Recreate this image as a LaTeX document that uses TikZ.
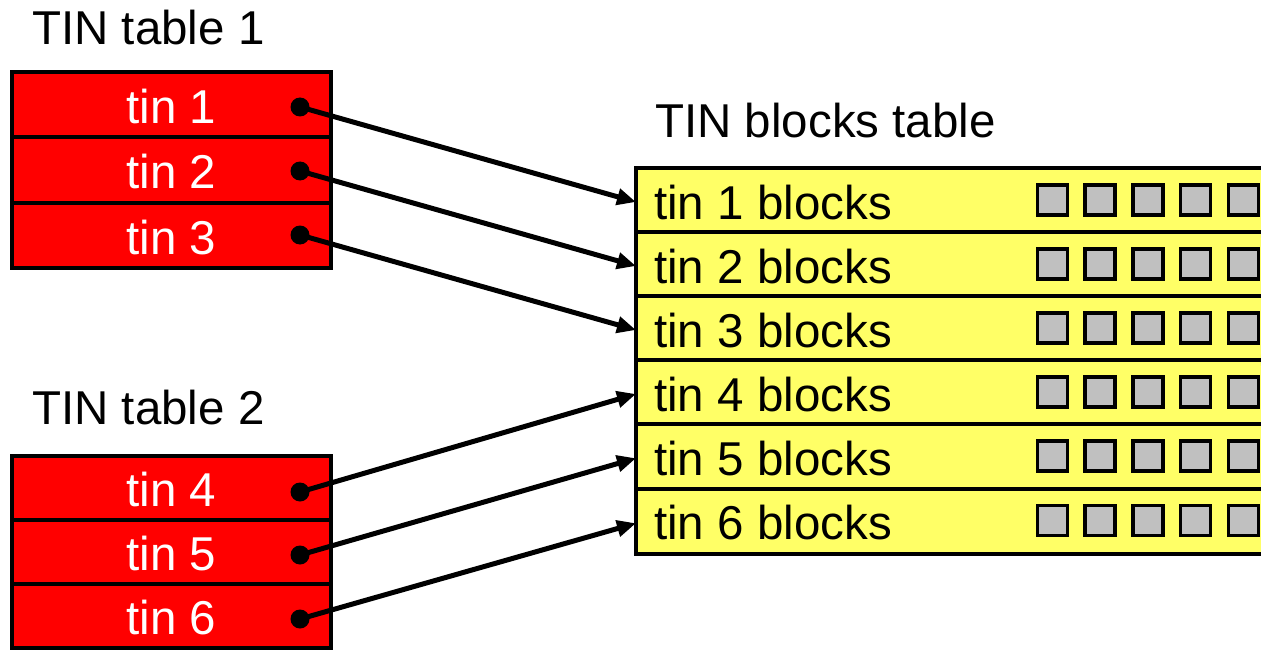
\documentclass[tikz,border=0pt]{standalone}
\usepackage{fontspec}
\setmainfont{Liberation Sans}
\usetikzlibrary{arrows.meta}
\definecolor{tinred}{HTML}{FF0000}
\definecolor{tinyellow}{HTML}{FFFF66}
\definecolor{blockgray}{HTML}{C0C0C0}
\begin{document}
\begin{tikzpicture}[x=1pt,y=-1pt,
  bigfont/.style={font=\fontsize{47.5}{57}\selectfont},
  redrow/.style={draw=black, line width=4pt, fill=tinred, text=white,
    minimum width=319pt, inner sep=0pt, outer sep=0pt, anchor=north west,
    bigfont, text height=37pt, text depth=0pt},
  yelrow/.style={draw=black, line width=4pt, fill=tinyellow,
    minimum width=700pt, inner sep=0pt, outer sep=0pt, anchor=north west},
  yellabel/.style={bigfont, anchor=base west, inner sep=0pt, text=black},
  title/.style={bigfont, anchor=base west, inner sep=0pt, text=black},
  blocksq/.style={draw=black, line width=3.5pt, fill=blockgray,
    minimum size=30pt, inner sep=0pt, outer sep=0pt},
  ptr/.style={line width=5pt, -{Triangle[length=19pt,width=16pt]}},
  dotmark/.style={fill=black}
]
\useasboundingbox (0,0) rectangle (1261,650);
\clip (0,0) rectangle (1261,650);
\fill[white] (0,0) rectangle (1261,650);

% titles
\node[title] (title1) at (32,45) {TIN table 1};
\node[title] (title2) at (32,424) {TIN table 2};
\node[title] (title3) at (655,138) {TIN blocks table};

% TIN table 1
\node[redrow, minimum height=65.5pt] (r1) at (12,72) {tin 1};
\node[redrow, minimum height=65.5pt] (r2) at (12,137.5) {tin 2};
\node[redrow, minimum height=65pt] (r3) at (12,203) {tin 3};

% TIN table 2
\node[redrow, minimum height=64pt] (r4) at (12,456) {tin 4};
\node[redrow, minimum height=64pt] (r5) at (12,520) {tin 5};
\node[redrow, minimum height=64pt] (r6) at (12,584) {tin 6};

% TIN blocks table
\foreach \i/\top/\h in {1/168/64, 2/232/64, 3/296/64, 4/360/64, 5/424/64.5, 6/488.5/65.5}{
  \node[yelrow, minimum height=\h pt] (y\i) at (636,\top) {};
  \node[yellabel] (yl\i) at (654,\top+51) {tin \i{} blocks};
  \foreach \k in {0,...,4}{
    \node[blocksq] (s\i-\k) at (1052.5+47.7*\k, \top+32) {};
  }
}

% pointers
\coordinate (p1) at (300,107);
\coordinate (p2) at (300,171);
\coordinate (p3) at (300,235);
\coordinate (p4) at (300,492);
\coordinate (p5) at (300,555);
\coordinate (p6) at (300,619);

\foreach \i in {1,...,6}{
  \draw[ptr] (p\i) -- ([yshift=-2pt]y\i.west);
  \fill[dotmark] (p\i) circle (9.5pt);
}
\end{tikzpicture}
\end{document}
